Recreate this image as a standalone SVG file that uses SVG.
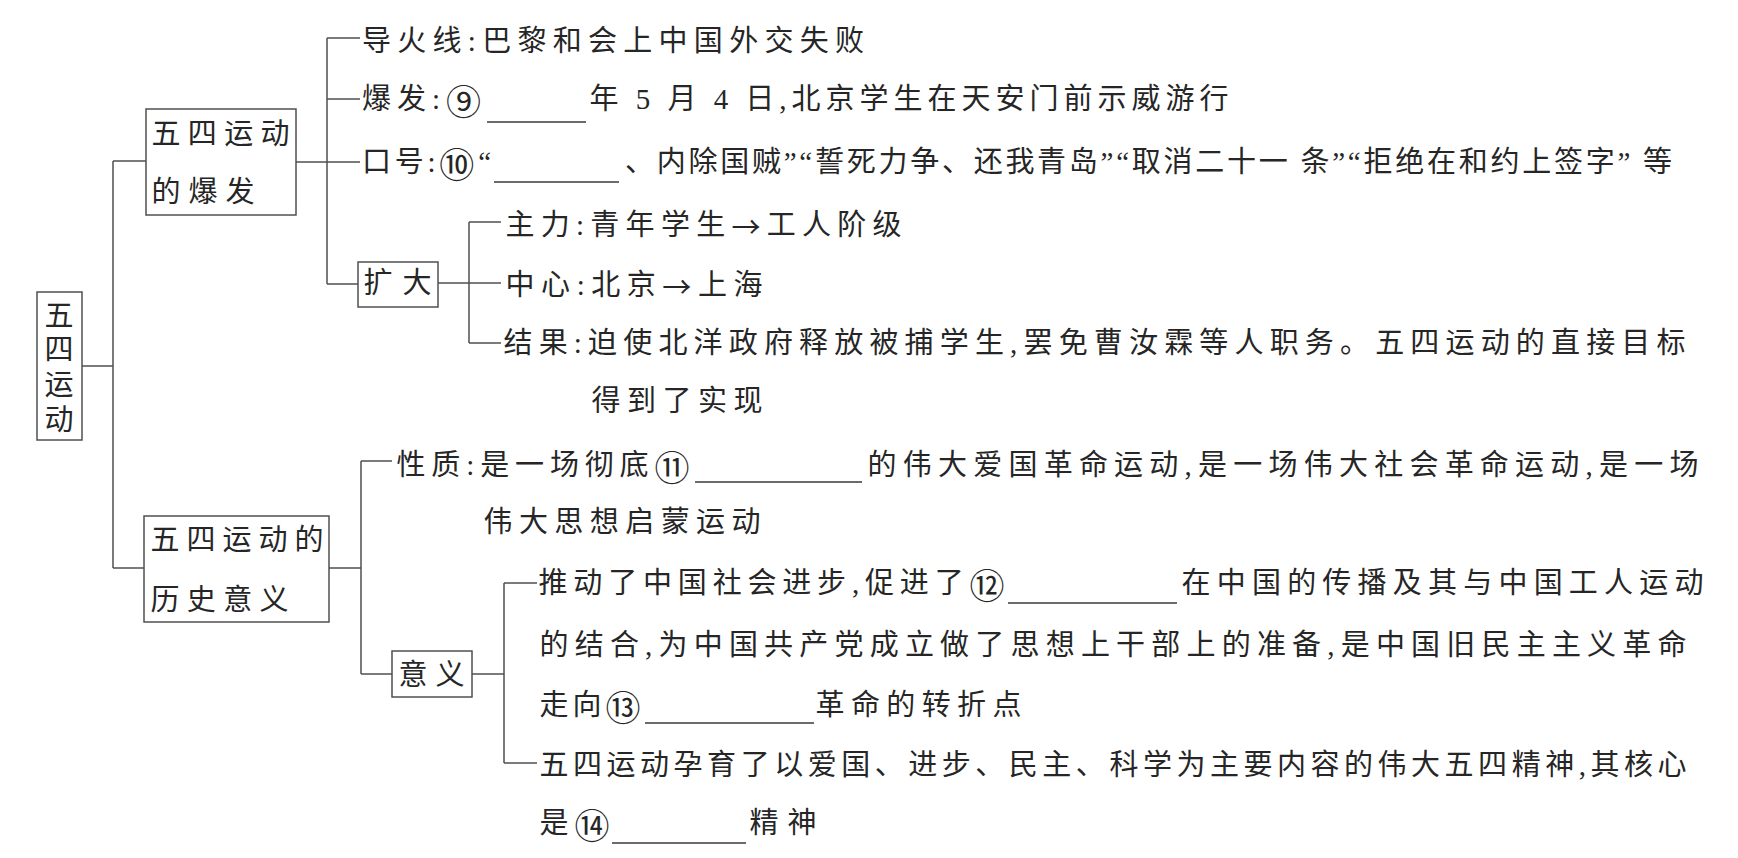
<svg xmlns="http://www.w3.org/2000/svg" width="1738" height="858" viewBox="0 0 1738 858">
<style>
.t{font-family:"Liberation Serif","Noto Sans CJK SC",serif;font-size:29px;fill:#262626;dominant-baseline:central}
.c{text-anchor:middle}
.n{font-family:"Noto Sans CJK SC",sans-serif;font-size:35px}
.a{font-family:"Noto Sans CJK SC",sans-serif}
.box{fill:none;stroke:#505050;stroke-width:1.5}
.ln{fill:none;stroke:#505050;stroke-width:1.5}
.u{fill:none;stroke:#3a3a3a;stroke-width:1.6}
</style>
<rect width="1738" height="858" fill="#ffffff"/>
<g id="connectors" class="ln">
<path d="M82,366H113M113,161V568M113,161H146M113,568H144"/>
<path d="M296,162H327M327,38V284M327,38H360M327,99H360M327,162H360M327,284H358"/>
<path d="M438,283H469M469,222V343M469,222H501M469,283H501M469,343H501"/>
<path d="M329,568H361M361,461V674M361,461H392M361,674H392"/>
<path d="M472,674H504M504,583V763M504,583H537M504,763H537"/>
</g>
<g id="root">
<rect class="box" x="37" y="292" width="45" height="148"/>
<text class="t c" x="59" y="316">五</text>
<text class="t c" x="59" y="350">四</text>
<text class="t c" x="59" y="385">运</text>
<text class="t c" x="59" y="420">动</text>
</g>
<g id="outbreak">
<rect class="box" x="146" y="109" width="150" height="106"/>
<text class="t" x="151.5" y="133.5" textLength="138" lengthAdjust="spacing">五四运动</text>
<text class="t" x="151.5" y="191.5" textLength="103" lengthAdjust="spacing">的爆发</text>
</g>
<g id="fuse">
<text class="t" x="362" y="41" textLength="502" lengthAdjust="spacing">导火线:巴黎和会上中国外交失败</text>
</g>
<g id="eruption">
<text class="t" x="362" y="99" textLength="119" lengthAdjust="spacing">爆发:<tspan class="n">⑨</tspan></text>
<path class="u" d="M487,122H586"/>
<text class="t" x="589.5" y="99" textLength="639" lengthAdjust="spacing">年 5 月 4 日,北京学生在天安门前示威游行</text>
</g>
<g id="slogan">
<text class="t" x="362" y="162" textLength="129" lengthAdjust="spacing">口号:<tspan class="n">⑩</tspan>“</text>
<path class="u" d="M494,182H619"/>
<text class="t" x="625" y="162" textLength="1047" lengthAdjust="spacing">、内除国贼”“誓死力争、还我青岛”“取消二十一 条”“拒绝在和约上签字” 等</text>
</g>
<g id="expand">
<rect class="box" x="358" y="262" width="80" height="45"/>
<text class="t" x="363.5" y="283" textLength="68" lengthAdjust="spacing">扩大</text>
</g>
<g id="mainforce">
<text class="t" x="505.5" y="225" textLength="396" lengthAdjust="spacing">主力:青年学生<tspan class="a">→</tspan>工人阶级</text>
</g>
<g id="center">
<text class="t" x="505.5" y="285" textLength="257" lengthAdjust="spacing">中心:北京<tspan class="a">→</tspan>上海</text>
</g>
<g id="result">
<text class="t" x="503.5" y="343" textLength="1182" lengthAdjust="spacing">结果:迫使北洋政府释放被捕学生,罢免曹汝霖等人职务。五四运动的直接目标</text>
<text class="t" x="591.5" y="401" textLength="171" lengthAdjust="spacing">得到了实现</text>
</g>
<g id="significance-box">
<rect class="box" x="144" y="516" width="185" height="106"/>
<text class="t" x="150.5" y="539.5" textLength="173" lengthAdjust="spacing">五四运动的</text>
<text class="t" x="150.5" y="600" textLength="138" lengthAdjust="spacing">历史意义</text>
</g>
<g id="nature">
<text class="t" x="396.5" y="465" textLength="293" lengthAdjust="spacing">性质:是一场彻底<tspan class="n">⑪</tspan></text>
<path class="u" d="M695,482H862"/>
<text class="t" x="867.5" y="465" textLength="831" lengthAdjust="spacing">的伟大爱国革命运动,是一场伟大社会革命运动,是一场</text>
<text class="t" x="483.5" y="522" textLength="277" lengthAdjust="spacing">伟大思想启蒙运动</text>
</g>
<g id="meaning">
<rect class="box" x="392" y="651" width="80" height="46"/>
<text class="t" x="398.5" y="675" textLength="66" lengthAdjust="spacing">意义</text>
</g>
<g id="meaning1">
<text class="t" x="538.5" y="583" textLength="466" lengthAdjust="spacing">推动了中国社会进步,促进了<tspan class="n">⑫</tspan></text>
<path class="u" d="M1008,603H1177"/>
<text class="t" x="1181.5" y="583" textLength="522" lengthAdjust="spacing">在中国的传播及其与中国工人运动</text>
<text class="t" x="539.5" y="645" textLength="1147" lengthAdjust="spacing">的结合,为中国共产党成立做了思想上干部上的准备,是中国旧民主主义革命</text>
<text class="t" x="539.5" y="705" textLength="101" lengthAdjust="spacing">走向<tspan class="n">⑬</tspan></text>
<path class="u" d="M645,723H814"/>
<text class="t" x="815.5" y="705" textLength="206" lengthAdjust="spacing">革命的转折点</text>
</g>
<g id="meaning2">
<text class="t" x="539.5" y="765" textLength="1147" lengthAdjust="spacing">五四运动孕育了以爱国、进步、民主、科学为主要内容的伟大五四精神,其核心</text>
<text class="t" x="539.5" y="823" textLength="70" lengthAdjust="spacing">是<tspan class="n">⑭</tspan></text>
<path class="u" d="M612,843H746"/>
<text class="t" x="749.5" y="823" textLength="67" lengthAdjust="spacing">精神</text>
</g>
</svg>
